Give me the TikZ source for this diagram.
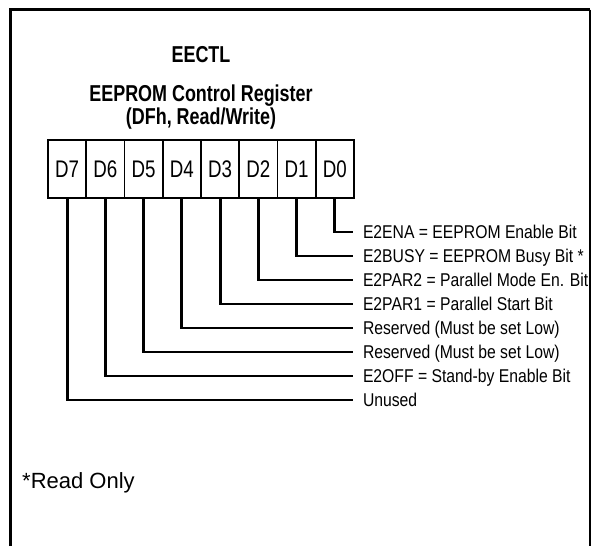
\documentclass[tikz,border=0pt]{standalone}
\usepackage{fontspec}
\setmainfont{Liberation Sans}
\newfontfamily\narrowfont[FakeStretch=0.78]{Liberation Sans}
\newfontfamily\labelfont[FakeStretch=0.85]{Liberation Sans}
\usetikzlibrary{positioning}
\definecolor{ink}{HTML}{000000}
\tikzset{
  framel/.style  = {draw=ink, line width=3pt},
  framer/.style  = {draw=ink, line width=1.8pt},
  bitcell/.style = {draw=ink, line width=1.8pt, minimum width=38.25pt, minimum height=58pt, inner sep=0pt,
                    font=\fontsize{24}{26}\selectfont\narrowfont},
  wire/.style    = {draw=ink, line width=2.8pt},
  bitlab/.style  = {anchor=west, inner sep=0pt, outer xsep=10pt, text height=13pt, text depth=0pt,
                    font=\fontsize{18.5}{20}\selectfont\labelfont\color{ink}},
  regtitle/.style = {font=\fontsize{23}{19}\selectfont\narrowfont\bfseries\color{ink}, align=center, inner sep=0pt},
  note/.style    = {font=\fontsize{22}{24}\selectfont\color{ink}, anchor=base west, inner sep=0pt},
}

\begin{document}
\begin{tikzpicture}[x=1pt,y=-1pt]
\useasboundingbox (0,0) rectangle (594,546);

% ---- frame, open at the bottom -------------------------------------------
\draw[framel] (10,546) -- (10,9.5) -- (590,9.5);
\draw[framer] (590,9.5) -- (590,546);

% ---- heading -------------------------------------------------------------
\node[regtitle, anchor=base] (name) at (201,62) {EECTL};
\node[regtitle, anchor=north] (desc) at (201,85) {EEPROM Control Register\\(DFh, Read/Write)};

% ---- the register --------------------------------------------------------
\foreach \i in {0,...,7}{%
  \pgfmathtruncatemacro{\b}{7-\i}
  \node[bitcell] (d\b) at (48+38.25*\i+19.125,169) {\raisebox{-1.5pt}{D\b}};
}

% ---- bit meanings --------------------------------------------------------
\foreach \b/\txt in {%
  0/{E2ENA = EEPROM Enable Bit},
  1/{E2BUSY = EEPROM Busy Bit *},
  2/{E2PAR2 = Parallel Mode En. Bit},
  3/{E2PAR1 = Parallel Start Bit},
  4/{Reserved (Must be set Low)},
  5/{Reserved (Must be set Low)},
  6/{E2OFF = Stand-by Enable Bit},
  7/{Unused}}{%
  \node[bitlab] (l\b) at (353,232+24*\b) {\txt};
  \draw[wire] (d\b.south) |- (l\b.west);
}

\node[note] (ro) at (22,488) {*Read Only};

\end{tikzpicture}
\end{document}
